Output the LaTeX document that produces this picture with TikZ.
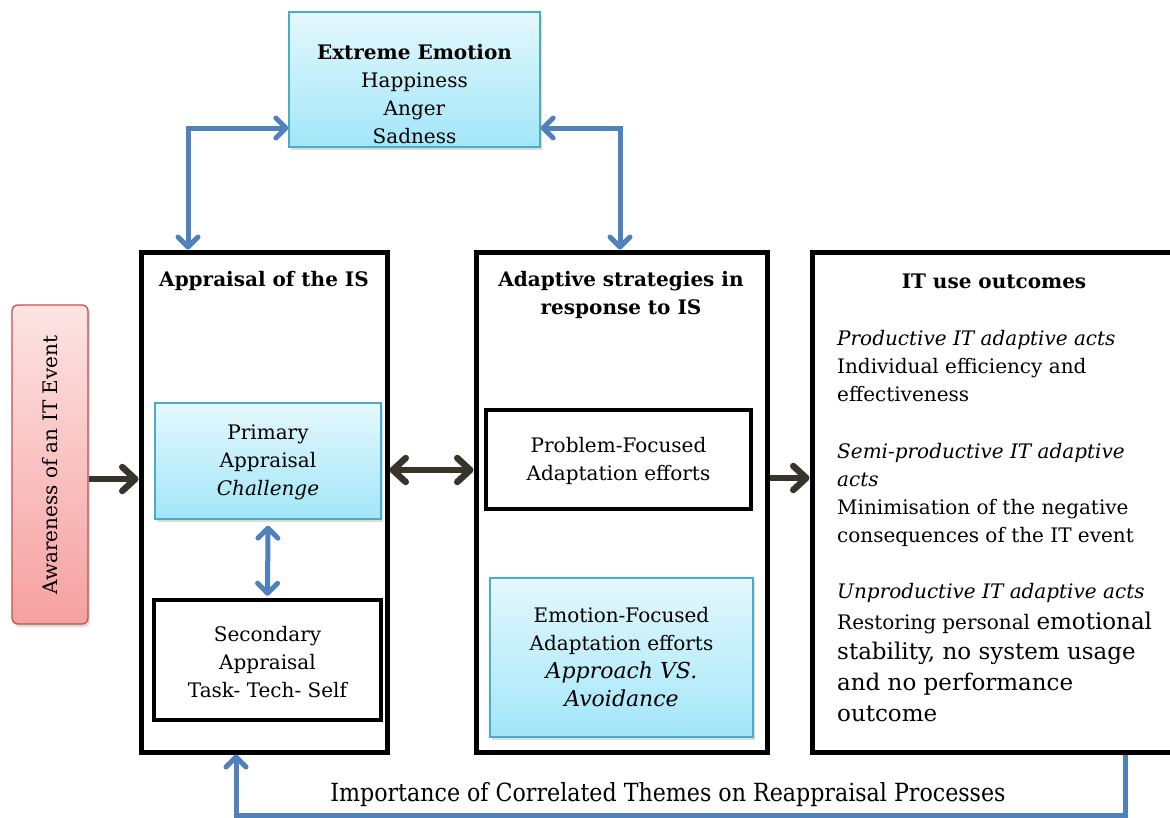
\documentclass[tikz,border=0pt]{standalone}
\usepackage{fontspec}
\usepackage{graphicx}
\setmainfont{DejaVu Serif}
\usetikzlibrary{arrows.meta,shadows}

\definecolor{barrow}{HTML}{4F81BD}
\definecolor{darrow}{HTML}{38342A}
\definecolor{cyanedge}{HTML}{4BACC6}
\definecolor{cyantop}{HTML}{E4F8FD}
\definecolor{cyanbot}{HTML}{A2E6F8}
\definecolor{redtop}{HTML}{FDE4E4}
\definecolor{redbot}{HTML}{F6A0A0}
\definecolor{rededge}{HTML}{C0504D}

\tikzset{
  btip/.tip={Straight Barb[length=10pt,width=20pt,line cap=round,line join=round]},
  dtip/.tip={Straight Barb[length=13pt,width=24pt,line cap=round,line join=round]},
  barr/.style={draw=barrow, line width=5pt},
  darr/.style={draw=darrow, line width=6.5pt},
  softshadow/.style={drop shadow={opacity=0.3, fill=black!45, shadow xshift=2pt, shadow yshift=-3pt}},
  bigbox/.style={draw=black, line width=5pt, inner sep=0},
  blackbox/.style={draw=black, line width=4.5pt, fill=white, inner sep=0},
  cyanbox/.style={draw=cyanedge, line width=1.3pt, top color=cyantop, bottom color=cyanbot, inner sep=0, softshadow},
  redbox/.style={draw=rededge, line width=1.3pt, top color=redtop, bottom color=redbot, rounded corners=6pt, inner sep=0, softshadow},
  txt/.style={font=\fontsize{20}{28}\selectfont, align=center, inner sep=0},
  oline/.style={font=\fontsize{20}{28}\selectfont, anchor=base west, inner sep=0},
  obig/.style={font=\fontsize{23}{31}\selectfont, anchor=base west, inner sep=0},
}

\begin{document}
\begin{tikzpicture}[x=1pt,y=-1pt]
  \useasboundingbox (0,0) rectangle (1170,817);

  % main column frames
  \node[bigbox, minimum width=246pt, minimum height=500pt] (A) at (264,502) {};
  \node[bigbox, minimum width=291pt, minimum height=500pt] (S) at (621.5,502) {};
  \node[bigbox, minimum width=364pt, minimum height=500pt] (O) at (994,502) {};

  % emotion box on top
  \node[cyanbox, minimum width=251pt, minimum height=135pt] (EE) at (414.5,79.5) {};
  \node[txt] (EEt) at (414.5,94) {\textbf{Extreme Emotion}\\Happiness\\Anger\\Sadness};

  % trigger box
  \node[redbox, minimum width=76pt, minimum height=319pt] (AW) at (50,464.5) {};
  \node[txt, rotate=90] (AWt) at (50,465) {Awareness of an IT Event};

  % column titles
  \node[txt, font=\fontsize{20}{28}\selectfont\bfseries] (At) at (264,281) {Appraisal of the IS};
  \node[txt, font=\fontsize{20}{28}\selectfont\bfseries] (St) at (621,295) {Adaptive strategies in\\response to IS};
  \node[txt, font=\fontsize{20}{28}\selectfont\bfseries] (Ot) at (994,281) {IT use outcomes};

  % appraisal column
  \node[cyanbox, minimum width=226pt, minimum height=116pt] (P) at (268,461) {};
  \node[txt] (Pt) at (268,462) {Primary\\Appraisal\\\textit{Challenge}};
  \node[blackbox, minimum width=227pt, minimum height=120pt] (Q) at (267.5,660) {};
  \node[txt] (Qt) at (267.5,662) {Secondary\\Appraisal\\Task- Tech- Self};

  % strategies column
  \node[blackbox, minimum width=265pt, minimum height=99pt] (PF) at (618.5,459.5) {};
  \node[txt] (PFt) at (618.5,461) {Problem-Focused\\Adaptation efforts};
  \node[cyanbox, minimum width=263pt, minimum height=159pt] (EF) at (621.5,657.5) {};
  \node[txt] (EFt) at (621.5,657) {Emotion-Focused\\Adaptation efforts\\{\fontsize{22}{30}\selectfont\itshape Approach VS.}\\{\fontsize{22}{30}\selectfont\itshape Avoidance}};

  % outcomes text
  \node[oline] (o1) at (837,345) {\textit{Productive IT adaptive acts}};
  \node[oline] (o2) at (837,373) {Individual efficiency and};
  \node[oline] (o3) at (837,401) {effectiveness};
  \node[oline] (o4) at (837,458) {\textit{Semi-productive IT adaptive}};
  \node[oline] (o5) at (837,486) {\textit{acts}};
  \node[oline] (o6) at (837,514) {Minimisation of the negative};
  \node[oline] (o7) at (837,542) {consequences of the IT event};
  \node[oline] (o8) at (837,598) {\textit{Unproductive IT adaptive acts}};
  \node[oline] (o9) at (837,629) {Restoring personal {\fontsize{23}{31}\selectfont emotional}};
  \node[obig] (o10) at (837,659) {stability, no system usage};
  \node[obig] (o11) at (837,690) {and no performance};
  \node[obig] (o12) at (837,721) {outcome};

  % feedback label, set narrow
  \node[inner sep=0, font=\fontsize{25}{30}\selectfont] (fb) at (668,795)
    {\scalebox{0.886}[1]{Importance of Correlated Themes on Reappraisal Processes}};

  % blue connectors
  \draw[barr, {btip}-{btip}] ([yshift=-48.5pt]EE.west) -| (A.north -| 188,0);
  \draw[barr, {btip}-{btip}] ([yshift=-48.5pt]EE.east) -| (S.north -| 620,0);
  \draw[barr, {btip}-{btip}] ([yshift=-6pt]P.south) -- ([yshift=2pt]Q.north);
  \draw[barr, -{btip}] (O.south -| 1125,0) -- (1125,815) -| (A.south -| 236,0);

  % dark connectors
  \draw[darr, -{dtip}] (AW.east |- 0,479) -- (A.west |- 0,479);
  \draw[darr, {dtip}-{dtip}] (A.east |- 0,470) -- (S.west |- 0,470);
  \draw[darr, -{dtip}] (S.east |- 0,478) -- (O.west |- 0,478);
\end{tikzpicture}
\end{document}
